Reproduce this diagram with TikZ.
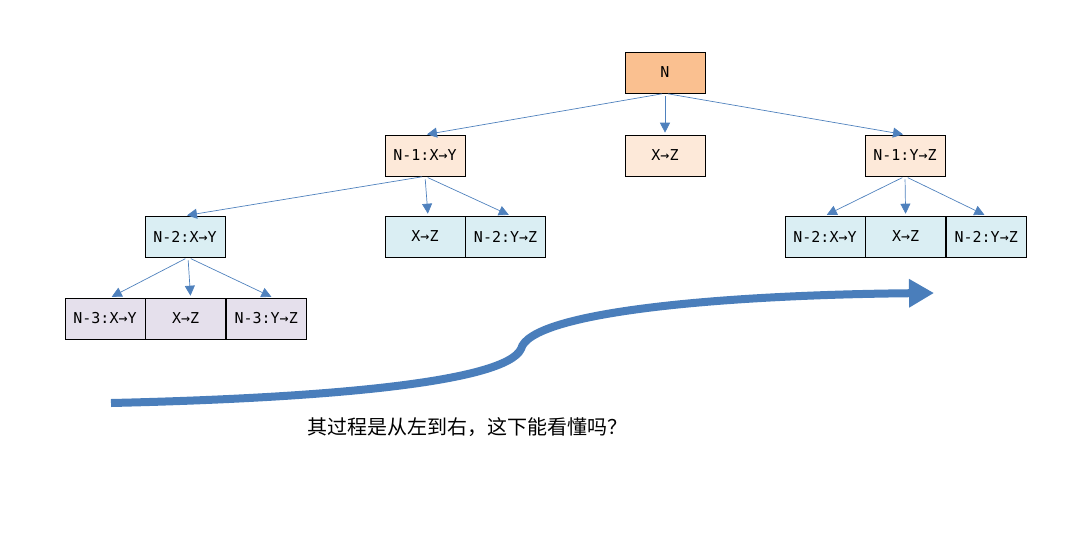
\documentclass[tikz,border=0pt]{standalone}
\usepackage{fontspec}
\setmainfont{Liberation Sans}
\newfontfamily\cjk{Noto Sans CJK SC}
\newfontfamily\boxfont{DejaVu Sans Mono}
\usepackage{tikz}
\usetikzlibrary{positioning, arrows.meta}
\definecolor{rootorange}{HTML}{FAC090}
\definecolor{peach}{HTML}{FDE9D9}
\definecolor{paleblue}{HTML}{DAEEF3}
\definecolor{lavender}{HTML}{E5E0EC}
\definecolor{linkblue}{HTML}{4F81BD}
\definecolor{flowblue}{HTML}{4A7EBB}
\tikzset{
  box/.style={draw=black, line width=0.6pt, minimum width=80pt, minimum height=41pt, inner sep=0pt, font=\boxfont\fontsize{15}{17}\selectfont},
  link/.style={draw=linkblue, line width=0.7pt, -{Triangle[length=10pt, width=10pt]}, shorten <=3pt, shorten >=2pt},
  flow/.style={draw=flowblue, line width=8pt, -{Triangle[length=25pt, width=27pt]}}
}

\begin{document}
\begin{tikzpicture}[x=1pt, y=-1pt]
    \useasboundingbox (0,0) rectangle (1070,541);
    % tree of moves
    \node[box, fill=rootorange] (n) at (665,72.5) {N};
    \node[box, fill=peach] (n1xy) at (425,155.5) {N-1:X→Y};
    \node[box, fill=peach] (n1xz) at (665,155.5) {X→Z};
    \node[box, fill=peach] (n1yz) at (905,155.5) {N-1:Y→Z};
    \node[box, fill=paleblue] (n2xy) at (185,236.5) {N-2:X→Y};
    \node[box, fill=paleblue] (lxz) at (425,236.5) {X→Z};
    \node[box, fill=paleblue, right=0pt of lxz] (lyz) {N-2:Y→Z};
    \node[box, fill=paleblue] (rxy) at (825,236.5) {N-2:X→Y};
    \node[box, fill=paleblue, right=0pt of rxy] (rxz) {X→Z};
    \node[box, fill=paleblue, right=0pt of rxz] (ryz) {N-2:Y→Z};
    \node[box, fill=lavender] (n3xy) at (105,318.5) {N-3:X→Y};
    \node[box, fill=lavender, right=0pt of n3xy] (n3xz) {X→Z};
    \node[box, fill=lavender, right=0pt of n3xz] (n3yz) {N-3:Y→Z};

    \draw[link] (n.south) -- (n1xy.north);
    \draw[link] (n.south) -- (n1xz.north);
    \draw[link] (n.south) -- (n1yz.north);
    \draw[link] (n1xy.south) -- (n2xy.north);
    \draw[link] (n1xy.south) -- ([xshift=3pt]lxz.north);
    \draw[link] (n1xy.south) -- ([xshift=5pt]lyz.north);
    \draw[link] (n1yz.south) -- (rxy.north);
    \draw[link] (n1yz.south) -- (rxz.north);
    \draw[link] (n1yz.south) -- (ryz.north);
    \draw[link] ([xshift=3pt]n2xy.south) -- ([xshift=5pt]n3xy.north);
    \draw[link] ([xshift=3pt]n2xy.south) -- ([xshift=5pt]n3xz.north);
    \draw[link] ([xshift=3pt]n2xy.south) -- ([xshift=7pt]n3yz.north);

    % direction of the process
    \coordinate (start) at (111,403);
    \coordinate (kink) at (521,349);
    \coordinate (tip) at (934,293);
    \draw[flow] (start) .. controls (330,398) and (505,382) .. (kink)
                        .. controls (530,312) and (720,295) .. (tip);
    \node[font=\cjk\fontsize{20}{22}\selectfont] (caption) at (467,427) {其过程是从左到右，这下能看懂吗？};
\end{tikzpicture}
\end{document}
